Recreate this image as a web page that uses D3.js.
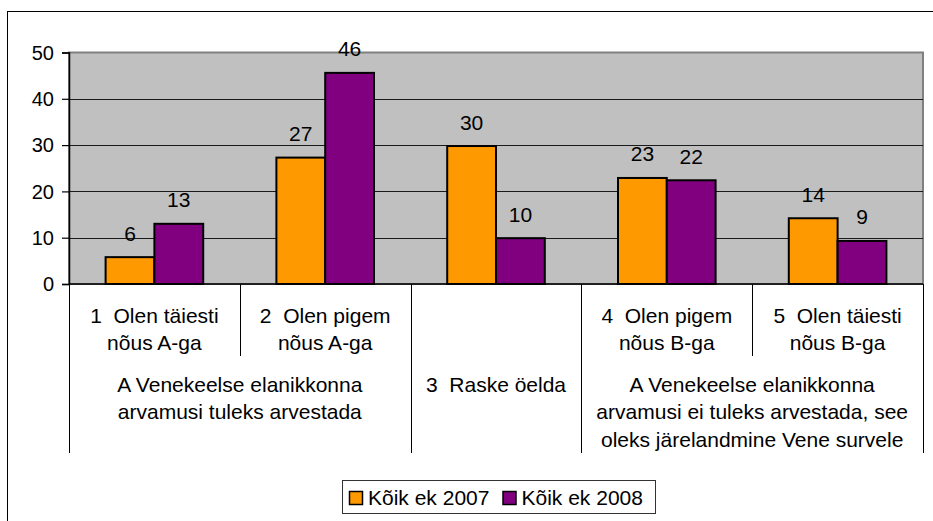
<!DOCTYPE html>
<html>
<head>
<meta charset="utf-8">
<script src="https://cdn.jsdelivr.net/npm/d3@7"></script>
<style>
  html, body { margin: 0; padding: 0; background: #fff; }
  svg { display: block; }
  text { font-family: "Liberation Sans", Arial, sans-serif; fill: #000; }
</style>
</head>
<body>
<svg id="chart" width="933" height="521"></svg>
<script>
// ---- data ----
const categories = ["c1", "c2", "c3", "c4", "c5"];
const categoryLines = [
  ["1  Olen täiesti", "nõus A-ga"],
  ["2  Olen pigem", "nõus A-ga"],
  [],
  ["4  Olen pigem", "nõus B-ga"],
  ["5  Olen täiesti", "nõus B-ga"]
];
const groupLines = [
  ["A Venekeelse elanikkonna", "arvamusi tuleks arvestada"],
  ["3  Raske öelda"],
  ["A Venekeelse elanikkonna", "arvamusi ei tuleks arvestada, see", "oleks järelandmine Vene survele"]
];
const groupFirst = [0, 2, 3];
const groupLast = [1, 2, 4];
const seriesNames = ["Kõik ek 2007", "Kõik ek 2008"];
const values2007 = [5.8, 27.3, 29.8, 22.9, 14.2];
const values2008 = [13.0, 45.6, 9.9, 22.4, 9.3];
const yTicks = [0, 10, 20, 30, 40, 50];
const seriesColors = ["#FF9900", "#800080"];

// ---- layout ----
const svg = d3.select("#chart");
const plotL = 69, plotR = 923, plotT = 52.5, plotB = 284;
const FS = 21;

// outer chart border (extends past the image on right/bottom)
svg.append("rect")
  .attr("x", 7.5).attr("y", 11.5).attr("width", 1000).attr("height", 1000)
  .attr("fill", "#fff").attr("stroke", "#000").attr("stroke-width", 1);

const x = d3.scaleBand().domain(categories).range([plotL, plotR]).paddingInner(0).paddingOuter(0);
const xs = d3.scaleBand().domain([0, 1]).range([0, x.bandwidth()]).paddingInner(0).paddingOuter(0.75);
const y = d3.scaleLinear().domain([0, 50]).range([plotB, plotT]);

// plot area
svg.append("rect")
  .attr("x", plotL).attr("y", plotT).attr("width", plotR - plotL).attr("height", plotB - plotT)
  .attr("fill", "#C0C0C0").attr("stroke", "#808080").attr("stroke-width", 2);

// gridlines
svg.append("g").selectAll("line").data(yTicks.filter(d => d > 0 && d < 50)).join("line")
  .attr("x1", plotL).attr("x2", plotR)
  .attr("y1", d => Math.round(y(d)) + 0.5).attr("y2", d => Math.round(y(d)) + 0.5)
  .attr("stroke", "#1a1a1a").attr("stroke-width", 1);

// y axis
const yAxis = d3.axisLeft(y).tickValues(yTicks).tickSize(7).tickPadding(8);
const gy = svg.append("g").attr("transform", `translate(${plotL},0)`).call(yAxis);
gy.select(".domain").attr("stroke", "#000").attr("stroke-width", 1.5);
gy.selectAll(".tick line").attr("stroke", "#000").attr("stroke-width", 1.2);
gy.selectAll(".tick text").attr("font-size", 20).attr("font-family", '"Liberation Sans", Arial, sans-serif')
  .attr("fill", "#000").attr("dy", "0.34em");

// bars
const rows = categories.map((c, i) => ({ c, i, vals: [values2007[i], values2008[i]] }));
const gBars = svg.append("g");
rows.forEach(r => {
  r.vals.forEach((v, s) => {
    const bx = x(r.c) + xs(s);
    gBars.append("rect")
      .attr("x", bx).attr("y", y(v))
      .attr("width", xs.bandwidth()).attr("height", y(0) - y(v))
      .attr("fill", seriesColors[s]).attr("stroke", "#000").attr("stroke-width", 2);
    gBars.append("text")
      .attr("x", bx + xs.bandwidth() / 2).attr("y", y(v) - 16.5)
      .attr("text-anchor", "middle").attr("font-size", FS)
      .text(d3.format(".0f")(v));
  });
});

// x axis line
svg.append("line").attr("x1", plotL).attr("x2", plotR).attr("y1", plotB).attr("y2", plotB)
  .attr("stroke", "#000").attr("stroke-width", 1.5);

// category dividers (level 1: inside groups)
const lvl1Bottom = 356, lvl2Bottom = 453;
const bounds = [];
categories.forEach((c, i) => bounds.push(x(c)));
bounds.push(x(categories[categories.length - 1]) + x.bandwidth());
const groupBounds = new Set();
groupFirst.forEach(i => groupBounds.add(i));
groupBounds.add(categories.length);
svg.append("g").selectAll("line").data(bounds.map((b, i) => ({ b, i }))).join("line")
  .attr("x1", d => Math.round(d.b) + 0.5).attr("x2", d => Math.round(d.b) + 0.5)
  .attr("y1", plotB).attr("y2", d => groupBounds.has(d.i) ? lvl2Bottom : lvl1Bottom)
  .attr("stroke", "#000").attr("stroke-width", 1);

// category labels
const gCat = svg.append("g");
categoryLines.forEach((lines, i) => {
  const cx = x(categories[i]) + x.bandwidth() / 2;
  lines.forEach((ln, k) => {
    gCat.append("text").attr("x", cx).attr("y", 323 + k * 27)
      .attr("text-anchor", "middle").attr("font-size", FS)
      .style("white-space", "pre").text(ln);
  });
});

// group labels
groupLines.forEach((lines, g) => {
  const x0 = x(categories[groupFirst[g]]);
  const x1 = x(categories[groupLast[g]]) + x.bandwidth();
  const cx = (x0 + x1) / 2;
  lines.forEach((ln, k) => {
    gCat.append("text").attr("x", cx).attr("y", 391.5 + k * 27.5)
      .attr("text-anchor", "middle").attr("font-size", FS)
      .style("white-space", "pre").text(ln);
  });
});

// legend
const lg = svg.append("g");
lg.append("rect").attr("x", 342.5).attr("y", 480.5).attr("width", 313).attr("height", 33)
  .attr("fill", "#fff").attr("stroke", "#333").attr("stroke-width", 1);
const legendX = [349.5, 503];
seriesNames.forEach((name, s) => {
  lg.append("rect").attr("x", legendX[s]).attr("y", 491.5).attr("width", 13).attr("height", 13)
    .attr("fill", seriesColors[s]).attr("stroke", "#000").attr("stroke-width", 1.5);
  lg.append("text").attr("x", legendX[s] + 18.5).attr("y", 505)
    .attr("font-size", FS).text(name);
});
</script>
</body>
</html>
